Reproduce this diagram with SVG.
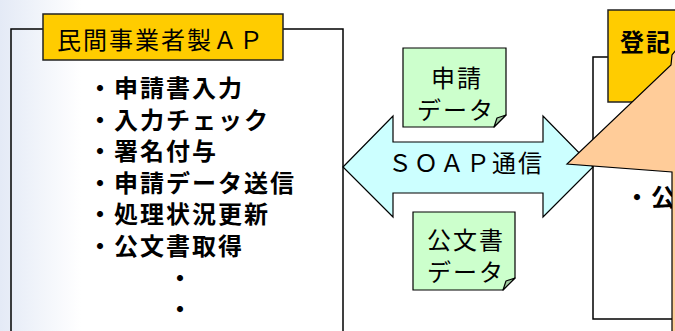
<svg xmlns="http://www.w3.org/2000/svg" width="675" height="331" viewBox="0 0 675 331">
  <defs>
    <linearGradient id="bg" x1="0" y1="0" x2="675" y2="0" gradientUnits="userSpaceOnUse">
      <stop offset="0" stop-color="#E4EAF6"/>
      <stop offset="0.12" stop-color="#FFFFFF"/>
      <stop offset="1" stop-color="#FFFFFF"/>
    </linearGradient>
  </defs>
  <style>
    text { font-family: "Noto Sans CJK JP", "Noto Sans", sans-serif; font-size: 24px; letter-spacing: 2px; fill: #000; }
    .b { font-weight: bold; }
    .frame { fill: none; stroke: #000; stroke-width: 1.5; }
    .label { fill: #FFCC00; stroke: #222; stroke-width: 1.5; }
    .note { fill: #CCFFCC; stroke: #000; stroke-width: 1.2; }
    .fold { fill: #A3CCA3; stroke: #000; stroke-width: 1.2; stroke-linejoin: round; }
    .arrow { fill: #CCFFFF; stroke: #000; stroke-width: 1.2; }
    .callout { fill: #FFCC99; stroke: #000; stroke-width: 1.2; }
  </style>
  <rect x="0" y="0" width="675" height="331" fill="url(#bg)"/>

  <g id="left-system">
    <rect class="frame" x="11" y="29" width="332" height="340"/>
    <rect class="label" x="43" y="14" width="240" height="46"/>
    <text x="57" y="49">民間事業者製ＡＰ</text>
    <text class="b" x="88" y="97">・申請書入力</text>
    <text class="b" x="88" y="128.6">・入力チェック</text>
    <text class="b" x="88" y="160.2">・署名付与</text>
    <text class="b" x="88" y="191.8">・申請データ送信</text>
    <text class="b" x="88" y="223.4">・処理状況更新</text>
    <text class="b" x="88" y="255">・公文書取得</text>
    <text class="b" x="168" y="286.6">・</text>
    <text class="b" x="168" y="318.2">・</text>
  </g>

  <g id="right-system">
    <rect class="frame" x="593" y="57" width="130" height="262" fill="#fff"/>
    <rect class="label" x="608" y="10" width="110" height="92"/>
    <text class="b" x="620" y="51">登記</text>
    <text class="b" x="625" y="206">・公</text>
  </g>

  <g id="connectors">
    <path class="arrow" d="M343,167 L393,116 L393,142 L543,142 L543,116 L593,167 L543,217 L543,193 L393,193 L393,217 Z"/>
    <text x="466" y="172" text-anchor="middle">ＳＯＡＰ通信</text>
  </g>

  <g id="note-request">
    <path class="note" d="M403,48 H506 V115 L494,127 H403 Z"/>
    <path class="fold" d="M494,127 L497,118 L506,115 Z"/>
    <text x="457" y="87" text-anchor="middle">申請</text>
    <text x="456" y="119" text-anchor="middle">データ</text>
  </g>

  <g id="note-document">
    <path class="note" d="M413,212 H515 V278 L503,290 H413 Z"/>
    <path class="fold" d="M503,290 L506,281 L515,278 Z"/>
    <text x="466" y="249" text-anchor="middle">公文書</text>
    <text x="466" y="281" text-anchor="middle">データ</text>
  </g>

  <g id="callout">
    <path class="callout" d="M676,50 L672,55 L671,65 L567,164 L672,172 L672,340 L700,340 L700,50 Z"/>
  </g>
</svg>
